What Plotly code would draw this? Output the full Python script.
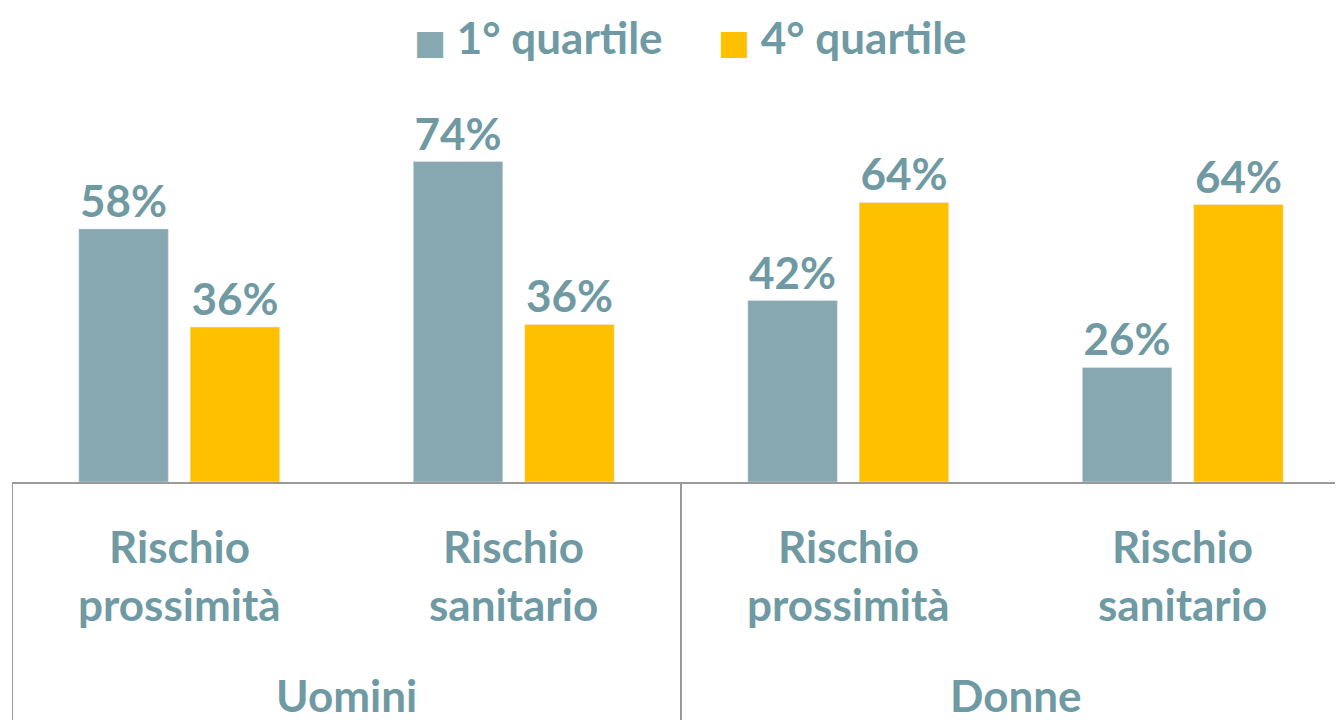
import plotly.graph_objects as go

# ---- data ----
cat_line1 = ["Rischio", "Rischio", "Rischio", "Rischio"]
cat_line2 = ["prossimità", "sanitario", "prossimità", "sanitario"]
groups = ["Uomini", "Donne"]
series_names = ["1° quartile", "4° quartile"]
q1_values = [58.3, 73.8, 41.8, 26.4]
q4_values = [35.7, 36.3, 64.4, 63.9]
q1_labels = ["58%", "74%", "42%", "26%"]
q4_labels = ["36%", "36%", "64%", "64%"]

GRAY = "#87A7B1"
YELLOW = "#FFC000"
TEXT = "#6F9AA3"
LINE = "#9A9A9A"
FONT = "Lato"
FS = 44
colors = [GRAY, YELLOW]

x = list(range(len(cat_line1)))

fig = go.Figure()
for name, vals, labs, col in zip(series_names, [q1_values, q4_values],
                                 [q1_labels, q4_labels], colors):
    fig.add_trace(go.Bar(x=x, y=vals, name=name, marker_color=col, text=labs,
                         textposition="outside", cliponaxis=False, showlegend=False,
                         textfont=dict(family=FONT, size=FS, color=TEXT, weight="bold")))

annotations = []
# legend (coloured square glyph + series name)
legend_x = [0.3956, 0.6243]
for name, col, lx in zip(series_names, colors, legend_x):
    annotations.append(dict(
        x=lx, y=1.0545, xref="paper", yref="paper", showarrow=False,
        xanchor="center", yanchor="middle", borderpad=0,
        text=f"<span style='color:{col};font-family:DejaVu Sans;font-size:34px'>■</span> {name}",
        font=dict(family=FONT, size=FS, color=TEXT, weight="bold")))

for i in x:
    annotations.append(dict(x=i, y=0, xref="x", yref="y", text=cat_line1[i],
                            showarrow=False, yanchor="middle", yshift=-64,
                            font=dict(family=FONT, size=FS, color=TEXT, weight="bold")))
    annotations.append(dict(x=i, y=0, xref="x", yref="y", text=cat_line2[i],
                            showarrow=False, yanchor="middle", yshift=-122,
                            font=dict(family=FONT, size=FS, color=TEXT, weight="bold")))
for gi, g in enumerate(groups):
    annotations.append(dict(x=gi * 2 + 0.5, y=0, xref="x", yref="y", text=g,
                            showarrow=False, yanchor="middle", yshift=-213,
                            font=dict(family=FONT, size=FS, color=TEXT, weight="bold")))

shapes = []
for xb in [-0.5, 1.5, 3.5]:
    shapes.append(dict(type="line", xref="x", yref="paper", x0=xb, x1=xb,
                       y0=0, y1=-0.7, line=dict(color=LINE, width=2)))

fig.update_layout(
    width=1335, height=712,
    margin=dict(l=4, r=0, t=52, b=238),
    plot_bgcolor="white", paper_bgcolor="white",
    barmode="group", bargap=0.334, bargroupgap=0.196,
    showlegend=False,
    xaxis=dict(range=[-0.5, 3.479], showticklabels=False, showgrid=False,
               zeroline=False, showline=True, linecolor=LINE, linewidth=2,
               ticks=""),
    yaxis=dict(range=[0, 97.2], visible=False),
    annotations=annotations,
    shapes=shapes,
)

fig.write_html("out.html")
